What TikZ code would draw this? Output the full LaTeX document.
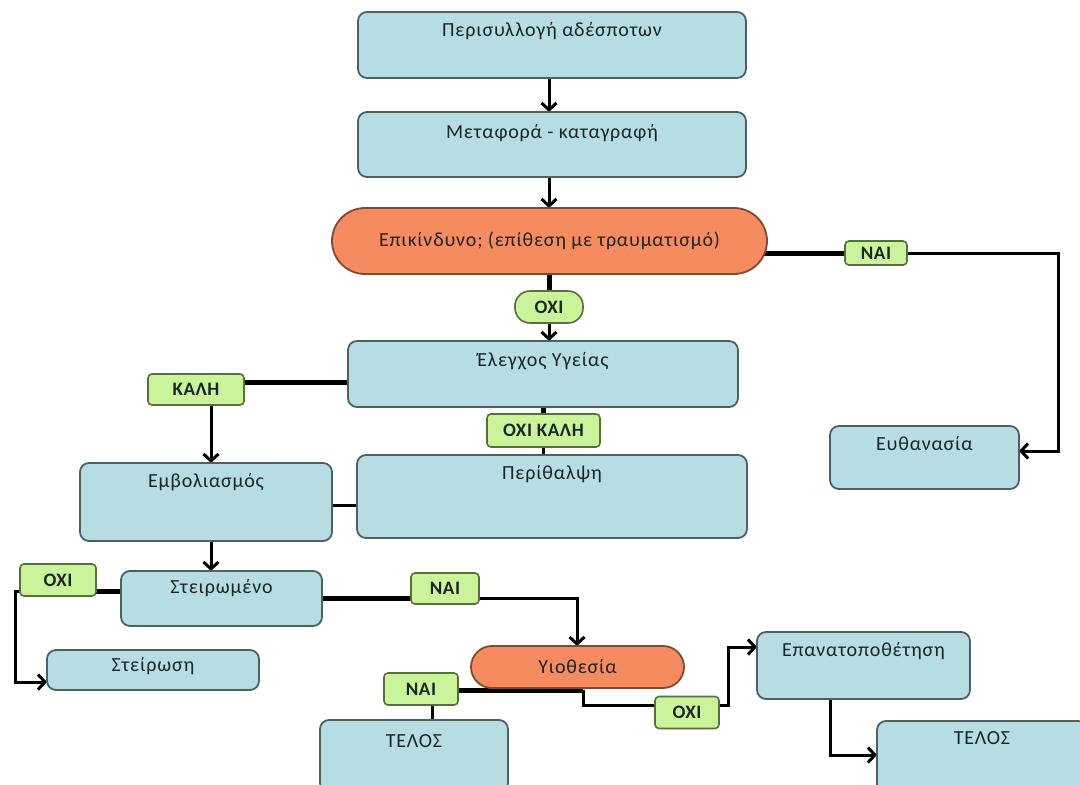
\documentclass[tikz,border=0pt]{standalone}
\usepackage{fontspec}
\setmainfont{Carlito}
\newfontfamily\boxfont[LetterSpace=4]{Carlito}
\newfontfamily\labfont[LetterSpace=3]{Carlito}
\usetikzlibrary{arrows.meta}
\definecolor{bfill}{HTML}{B5DDE3}
\definecolor{bline}{HTML}{4E6064}
\definecolor{ofill}{HTML}{F58B5E}
\definecolor{oline}{HTML}{7E4A30}
\definecolor{gfill}{HTML}{CBF49A}
\definecolor{gline}{HTML}{55703A}
\definecolor{tcol}{HTML}{1A262C}
\pgfdeclarelayer{back}
\pgfdeclarelayer{bg}
\pgfsetlayers{back,bg,main}
\begin{document}
\begin{tikzpicture}[x=1pt,y=-1pt,
  bx/.style={draw=bline,fill=bfill,line width=1.8pt,rounded corners=9pt,inner sep=0pt,outer sep=0pt,
    font=\boxfont\fontsize{20}{24}\selectfont,text=tcol},
  ox/.style={draw=oline,fill=ofill,line width=1.8pt,inner sep=0pt,outer sep=0pt,
    font=\boxfont\fontsize{20}{24}\selectfont,text=tcol},
  gx/.style={draw=gline,fill=gfill,line width=1.6pt,rounded corners=4pt,inner sep=0pt,outer sep=0pt,
    font=\labfont\bfseries\fontsize{19}{22}\selectfont,text=tcol},
  conn/.style={draw=black,line width=3pt},
  thk/.style={draw=black,line width=5pt},
  arr/.style={conn,-{Straight Barb[length=7pt,width=15pt]}}]
\begin{pgfonlayer}{back}
\fill[white] (0,0) rectangle (1080,785);
\end{pgfonlayer}
\useasboundingbox (0,0) rectangle (1080,785);

% boxes
\node[bx,minimum width=388pt,text height=24pt,text depth=42pt] (b1) at (552,45) {Περισυλλογή αδέσποτων};
\node[bx,minimum width=388pt,text height=26pt,text depth=39pt] (b2) at (552,144.5) {Μεταφορά - καταγραφή};
\node[ox,minimum width=435pt,minimum height=66pt,rounded corners=33pt] (b3) at (549.5,241) {Επικίνδυνο; (επίθεση με τραυματισμό)};
\node[bx,minimum width=390pt,text height=25pt,text depth=41pt] (b5) at (543,374) {Έλεγχος Υγείας};
\node[bx,minimum width=390pt,text height=24pt,text depth=59pt] (b8) at (552,496.5) {Περίθαλψη};
\node[bx,minimum width=252pt,text height=24pt,text depth=54pt] (b9) at (206,502) {Εμβολιασμός};
\node[bx,minimum width=201pt,text height=22pt,text depth=33pt] (b10) at (221.5,598.5) {Στειρωμένο};
\node[bx,minimum width=212pt,text height=21pt,text depth=19pt] (b12) at (153,670) {Στείρωση};
\node[ox,minimum width=213pt,minimum height=42pt,rounded corners=21pt] (b14) at (577.5,667) {Υιοθεσία};
\node[bx,minimum width=188pt,text height=27pt,text depth=45pt] (b17) at (414,756) {ΤΕΛΟΣ};
\node[bx,minimum width=213pt,text height=24pt,text depth=43pt] (b18) at (863.5,665.5) {Επανατοποθέτηση};
\node[bx,minimum width=210pt,text height=23pt,text depth=49pt] (b19) at (982,757) {ΤΕΛΟΣ};
\node[bx,minimum width=189pt,text height=24pt,text depth=39pt] (b20) at (924.5,457.5) {Ευθανασία};

% labels
\node[gx,minimum width=68pt,minimum height=32pt,rounded corners=15pt] (L1) at (549,307) {ΟΧΙ};
\node[gx,minimum width=62pt,minimum height=24pt] (L2) at (876,253) {ΝΑΙ};
\node[gx,minimum width=96pt,minimum height=31pt] (L3) at (196,389.5) {ΚΑΛΗ};
\node[gx,minimum width=113pt,minimum height=33pt] (L4) at (543.5,430.5) {ΟΧΙ ΚΑΛΗ};
\node[gx,minimum width=76pt,minimum height=32pt] (L5) at (58,580) {ΟΧΙ};
\node[gx,minimum width=68pt,minimum height=31pt] (L6) at (445,588.5) {ΝΑΙ};
\node[gx,minimum width=74pt,minimum height=32pt] (L7) at (421,689) {ΝΑΙ};
\node[gx,minimum width=64pt,minimum height=32pt] (L8) at (687,712.5) {ΟΧΙ};

% helper coordinates
\coordinate (c1) at (1058,451);
\coordinate (yk) at (0,382);
\coordinate (xa) at (211,0);
\coordinate (ye) at (0,505);
\coordinate (yo) at (0,591);
\coordinate (xl) at (15,0);
\coordinate (ys) at (0,682);
\coordinate (yn) at (0,598);
\coordinate (xy) at (577,0);
\coordinate (j) at (583,690);
\coordinate (yx) at (0,705);
\coordinate (xr) at (728,0);
\coordinate (yr) at (0,647);
\coordinate (xt) at (432,0);
\coordinate (xe) at (830,0);
\coordinate (yt) at (0,755);

\begin{pgfonlayer}{bg}
\draw[arr] (b1.south -| L1) -- (b2.north -| L1);
\draw[arr] (b2.south -| L1) -- (b3.north -| L1);
\draw[thk] (b3.center -| L1) -- (L1);
\draw[arr] (L1.south) -- (b5.north -| L1);
\draw[thk] (b3.center |- L2) -- (L2);
\draw[arr] (L2.east) -| (c1) -- (b20.east |- c1);
\draw[thk] (b5 |- yk) -- (L3 |- yk);
\draw[arr] (L3 -| xa) -- (b9.north -| xa);
\draw[thk] (b5.center -| L4) -- (L4);
\draw[conn] (L4) -- (b8.center -| L4);
\draw[conn] (b9 |- ye) -- (b8 |- ye);
\draw[arr] (b9.south -| xa) -- (b10.north -| xa);
\draw[thk] (b10 |- yo) -- (L5 |- yo);
\draw[arr] (L5 |- yo) -| (xl |- ys) -- (b12.west |- ys);
\draw[thk] (b10 |- yn) -- (L6 |- yn);
\draw[arr] (L6 |- yn) -| (b14.north -| xy);
\draw[thk] (j) -- (L7 |- j);
\draw[conn] (j) -- (j |- yx) -- (L8 |- yx);
\draw[arr] (L8 |- yx) -| (xr |- yr) -- (b18.west |- yr);
\draw[conn] (L7 -| xt) -- (b17 -| xt);
\draw[arr] (b18 -| xe) |- (b19.west |- yt);
\end{pgfonlayer}
\end{tikzpicture}
\end{document}
